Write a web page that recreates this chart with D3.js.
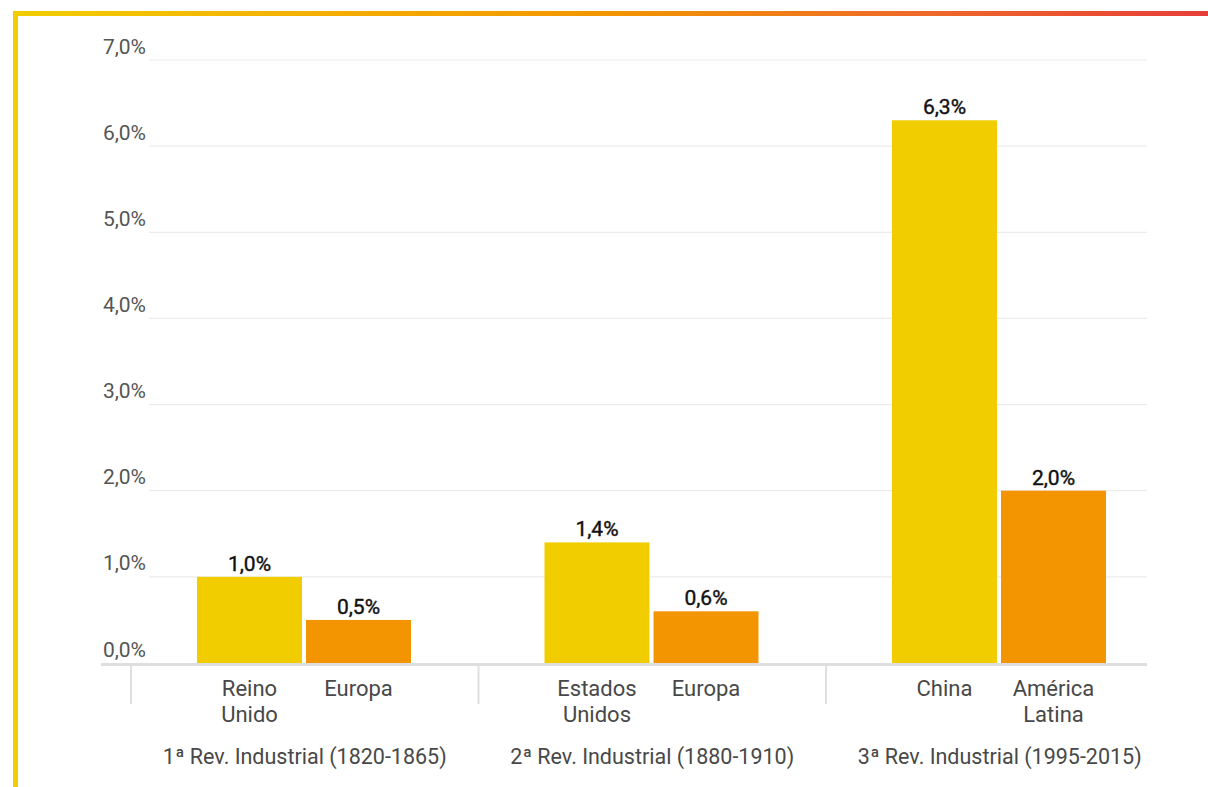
<!DOCTYPE html>
<html>
<head>
<meta charset="utf-8">
<script src="https://cdn.jsdelivr.net/npm/d3@7"></script>
<style>
    body { margin: 0; background: #fff; }
    svg { display: block; font-family: Roboto, "Noto Sans", sans-serif; }
</style>
</head>
<body>
<div id="chart"></div>
<script>
// data
const groups = ["1ª Rev. Industrial (1820-1865)", "2ª Rev. Industrial (1880-1910)", "3ª Rev. Industrial (1995-2015)"];
const leaders = ["Reino Unido", "Estados Unidos", "China"];
const followers = ["Europa", "Europa", "América Latina"];
const leaderValues = [1.0, 1.4, 6.3];
const followerValues = [0.5, 0.6, 2.0];
const yTicks = [0, 1, 2, 3, 4, 5, 6, 7];

const colors = ["#F1CD00", "#F39500"];

const width = 1208;
const height = 787;

const fmt = v => d3.format(".1f")(v).replace(".", ",") + "%";

const svg = d3.select('#chart')
    .append('svg')
    .attr('width', width)
    .attr('height', height);

/* frame: gradient top bar + yellow left bar */
const grad = svg.append('defs').append('linearGradient')
    .attr('id', 'topGrad')
    .attr('x1', '0%').attr('x2', '100%');
grad.append('stop').attr('offset', '0%').attr('stop-color', '#F2CE00');
grad.append('stop').attr('offset', '25%').attr('stop-color', '#F4AF00');
grad.append('stop').attr('offset', '50%').attr('stop-color', '#F29500');
grad.append('stop').attr('offset', '75%').attr('stop-color', '#EE6B28');
grad.append('stop').attr('offset', '100%').attr('stop-color', '#E63E38');

svg.append('rect').attr('x', 13).attr('y', 11).attr('width', width - 13).attr('height', 5).attr('fill', 'url(#topGrad)');
svg.append('rect').attr('x', 13).attr('y', 11).attr('width', 5).attr('height', height - 11).attr('fill', '#F2CE00');

const y = d3.scaleLinear().domain([0, 7]).range([663, 60]);

const x0 = d3.scaleBand()
    .domain(groups)
    .range([131, 131 + 347.5 * 3]);

const x1 = d3.scaleBand()
    .domain([0, 1])
    .range([66, 280])
    .paddingInner(0.037);

/* gridlines */
svg.append('g').selectAll('line')
    .data(yTicks.filter(t => t > 0))
    .enter()
    .append('line')
    .attr('x1', 149).attr('x2', 1147)
    .attr('y1', d => y(d)).attr('y2', d => y(d))
    .attr('stroke', '#ebebeb')
    .attr('stroke-width', 1.2);

/* y tick labels */
svg.append('g').selectAll('text')
    .data(yTicks)
    .enter()
    .append('text')
    .attr('x', 146)
    .attr('y', d => y(d) - 6.5)
    .attr('text-anchor', 'end')
    .attr('font-size', 21)
    .attr('fill', '#555')
    .text(d => fmt(d));

/* bars */
const data = groups.map((g, i) => ({
    group: g,
    items: [
        {name: leaders[i], value: leaderValues[i], k: 0},
        {name: followers[i], value: followerValues[i], k: 1}
    ]
}));

const gGroups = svg.append('g').selectAll('g')
    .data(data)
    .enter()
    .append('g')
    .attr('transform', d => `translate(${x0(d.group)},0)`);

const bars = gGroups.selectAll('g.bar')
    .data(d => d.items)
    .enter()
    .append('g')
    .attr('class', 'bar');

bars.append('rect')
    .attr('x', d => x1(d.k))
    .attr('width', x1.bandwidth())
    .attr('y', d => y(d.value))
    .attr('height', d => y(0) - y(d.value))
    .attr('fill', d => colors[d.k]);

bars.append('text')
    .attr('x', d => x1(d.k) + x1.bandwidth() / 2)
    .attr('y', d => y(d.value) - 6)
    .attr('text-anchor', 'middle')
    .attr('font-size', 21)
    .attr('fill', '#111')
    .attr('stroke', '#111')
    .attr('stroke-width', 0.4)
    .text(d => fmt(d.value));

/* category labels (wrapped on spaces) */
const cat = bars.append('text')
    .attr('text-anchor', 'middle')
    .attr('font-size', 22)
    .attr('fill', '#484848');

cat.selectAll('tspan')
    .data(d => d.name.split(' ').map(w => ({w: w, cx: x1(d.k) + x1.bandwidth() / 2})))
    .enter()
    .append('tspan')
    .attr('x', d => d.cx)
    .attr('y', (d, i) => 696 + i * 26)
    .text(d => d.w);

/* group labels */
gGroups.append('text')
    .attr('x', x0.bandwidth() / 2)
    .attr('y', 764)
    .attr('text-anchor', 'middle')
    .attr('font-size', 21.5)
    .attr('fill', '#484848')
    .text(d => d.group);

/* baseline */
svg.append('line')
    .attr('x1', 101).attr('x2', 1147)
    .attr('y1', y(0) + 1.5).attr('y2', y(0) + 1.5)
    .attr('stroke', '#dedede')
    .attr('stroke-width', 3);

/* group separators */
svg.append('g').selectAll('line')
    .data(groups)
    .enter()
    .append('line')
    .attr('x1', d => x0(d)).attr('x2', d => x0(d))
    .attr('y1', 666).attr('y2', 704)
    .attr('stroke', '#e0e0e0')
    .attr('stroke-width', 2);
</script>
</body>
</html>
